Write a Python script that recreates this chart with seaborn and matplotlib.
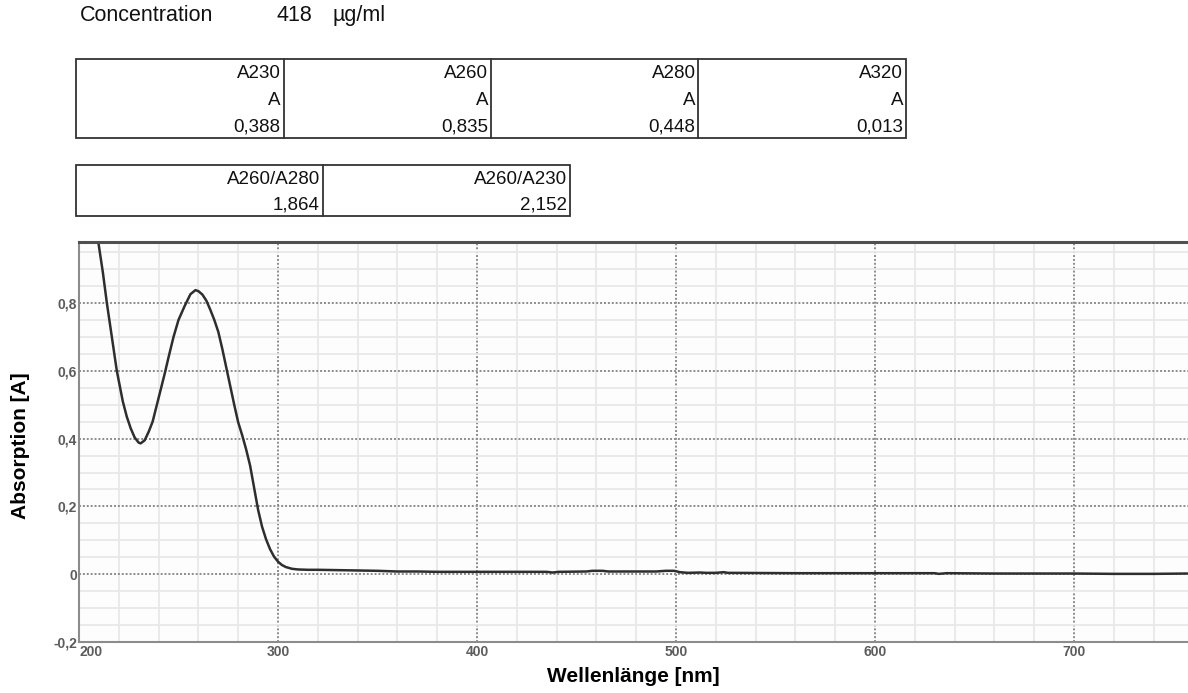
import numpy as np
import pandas as pd
import seaborn as sns
import matplotlib.pyplot as plt
from matplotlib.ticker import MultipleLocator, FixedLocator, FuncFormatter
from matplotlib.patches import Rectangle
from matplotlib.lines import Line2D

sns.set_theme(style="white")
plt.rcParams['font.family'] = ['Liberation Sans', 'DejaVu Sans']

# ---- measurement data -------------------------------------------------
concentration = 418
concentration_unit = "µg/ml"

band_names = ["A230", "A260", "A280", "A320"]
band_unit = "A"
band_wavelengths = [230, 260, 280, 320]
band_values = [0.388, 0.835, 0.448, 0.013]

ratio_names = ["A260/A280", "A260/A230"]
ratio_values = [1.864, 2.152]

# sampled spectrum (nm, absorbance)
wavelength = [200, 205, 209.7, 212, 214, 217, 219, 222, 224, 226, 228, 231, 233,
              235, 237, 240, 243, 245, 247.5, 250, 253, 256, 258.5, 262, 264,
              266, 268, 270, 272, 274, 276, 278, 282, 284, 286, 288, 290, 292,
              294, 296, 298, 300, 302, 304, 307, 310, 315, 330, 340, 350, 360,
              370, 380, 400, 420, 435, 438, 441, 455, 458, 463, 466, 490, 495,
              499, 502, 506, 512, 515, 520, 524, 526, 560, 600, 630, 632, 636,
              660, 680, 700, 720, 740, 757]
absorbance = [1.36, 1.17, 0.98, 0.89, 0.80, 0.68, 0.60, 0.51, 0.465, 0.43, 0.403, 0.386, 0.395,
              0.42, 0.45, 0.52, 0.59, 0.64, 0.70, 0.75, 0.79, 0.826, 0.838, 0.825, 0.807,
              0.78, 0.75, 0.715, 0.665, 0.61, 0.555, 0.50, 0.41, 0.368, 0.32, 0.255, 0.19, 0.14,
              0.103, 0.074, 0.052, 0.037, 0.027, 0.021, 0.016, 0.014, 0.013, 0.012, 0.011, 0.010, 0.008,
              0.008, 0.007, 0.007, 0.007, 0.007, 0.005, 0.007, 0.008, 0.010, 0.010, 0.008, 0.008, 0.010,
              0.010, 0.006, 0.004, 0.005, 0.004, 0.004, 0.006, 0.004, 0.003, 0.003, 0.003, 0.001, 0.003,
              0.002, 0.002, 0.002, 0.001, 0.001, 0.002]

x_ticks = [200, 300, 400, 500, 600, 700]
y_ticks = [-0.2, 0.0, 0.2, 0.4, 0.6, 0.8]

spectrum = pd.DataFrame({
    "nm": wavelength + band_wavelengths,
    "A": absorbance + band_values,
}).sort_values("nm")

# ---- figure -----------------------------------------------------------
W, H = 1188, 693
fig = plt.figure(figsize=(W / 100, H / 100), dpi=100)
fig.patch.set_facecolor("white")


def fx(x):
    return x / W


def fy(y):
    return 1 - y / H


def comma(v, nd):
    return f"{v:.{nd}f}".replace(".", ",")


# header line
hdr_kw = dict(fontsize=15.5, color="#111111", va="baseline")
fig.text(fx(80), fy(21), "Concentration", ha="left", **hdr_kw)
fig.text(fx(312), fy(21), f"{concentration}", ha="right", **hdr_kw)
fig.text(fx(333), fy(21), concentration_unit, ha="left", **hdr_kw)


def draw_table(x0, x1, y0, y1, rows):
    ncol = len(rows[0])
    nrow = len(rows)
    fig.add_artist(Rectangle((fx(x0), fy(y1)), fx(x1) - fx(x0), fy(y0) - fy(y1),
                             transform=fig.transFigure, fill=False,
                             edgecolor="#333333", lw=1.3))
    cw = (x1 - x0) / ncol
    rh = (y1 - y0) / nrow
    for c in range(1, ncol):
        xc = x0 + c * cw
        fig.add_artist(Line2D([fx(xc), fx(xc)], [fy(y0), fy(y1)],
                              transform=fig.transFigure, color="#333333", lw=1.3))
    for r, row in enumerate(rows):
        for c, txt in enumerate(row):
            fig.text(fx(x0 + (c + 1) * cw - 3), fy(y0 + (r + 1) * rh - 7), txt,
                     ha="right", va="baseline", fontsize=13.5, color="#111111")


draw_table(76, 906, 59, 138, [
    band_names,
    [band_unit] * len(band_names),
    [comma(v, 3) for v in band_values],
])
draw_table(76, 570, 165, 216, [
    ratio_names,
    [comma(v, 3) for v in ratio_values],
])

# ---- spectrum plot ----------------------------------------------------
ax_l, ax_r, ax_t, ax_b = 79, 1188, 242, 642
ax = fig.add_axes([fx(ax_l), fy(ax_b), fx(ax_r) - fx(ax_l), fy(ax_t) - fy(ax_b)])
ax.set_facecolor("#fdfdfd")

sns.lineplot(data=spectrum, x="nm", y="A", ax=ax, color="#2e2e2e", lw=1.8,
             estimator=None, sort=True)

ax.set_xlim(200, 757.3)
ax.set_ylim(-0.2, 0.98)

ax.xaxis.set_major_locator(FixedLocator(x_ticks))
ax.xaxis.set_minor_locator(MultipleLocator(20))
ax.yaxis.set_major_locator(FixedLocator(y_ticks))
ax.yaxis.set_minor_locator(MultipleLocator(0.05))
ax.xaxis.set_major_formatter(FuncFormatter(lambda v, p: f"{v:.0f}"))
ax.yaxis.set_major_formatter(
    FuncFormatter(lambda v, p: "0" if abs(v) < 1e-9 else comma(v, 1)))

ax.set_axisbelow(True)
ax.grid(which="minor", color="#e8e8e8", lw=1.3, linestyle="-")
ax.grid(which="major", color="#8c8c8c", lw=1.4, linestyle=(0, (1, 1)))

ax.tick_params(which="both", length=0)
ax.tick_params(axis="x", pad=2, labelsize=10, labelcolor="#5c5c5c")
ax.tick_params(axis="y", pad=1.5, labelsize=10, labelcolor="#5c5c5c")
for lab in ax.get_xticklabels() + ax.get_yticklabels():
    lab.set_fontweight("bold")
ax.get_xticklabels()[0].set_horizontalalignment("left")

ax.spines["right"].set_visible(False)
ax.spines["top"].set_color("#505050")
ax.spines["top"].set_linewidth(2.2)
for side in ("left", "bottom"):
    ax.spines[side].set_color("#8c8c8c")
    ax.spines[side].set_linewidth(1.5)
    ax.spines[side].set_linestyle((0, (1, 1)))

ax.set_xlabel("Wellenlänge [nm]", fontsize=15, fontweight="bold", color="black")
ax.set_ylabel("Absorption [A]", fontsize=15, fontweight="bold", color="black")
ax.xaxis.set_label_coords(0.5, (ax_b - 677) / (ax_b - ax_t))
ax.yaxis.set_label_coords((21 - ax_l) / (ax_r - ax_l), 0.49)
ax.xaxis.label.set_verticalalignment("center")
ax.yaxis.label.set_verticalalignment("center")

fig.savefig("out.png", dpi=100, facecolor="white")
